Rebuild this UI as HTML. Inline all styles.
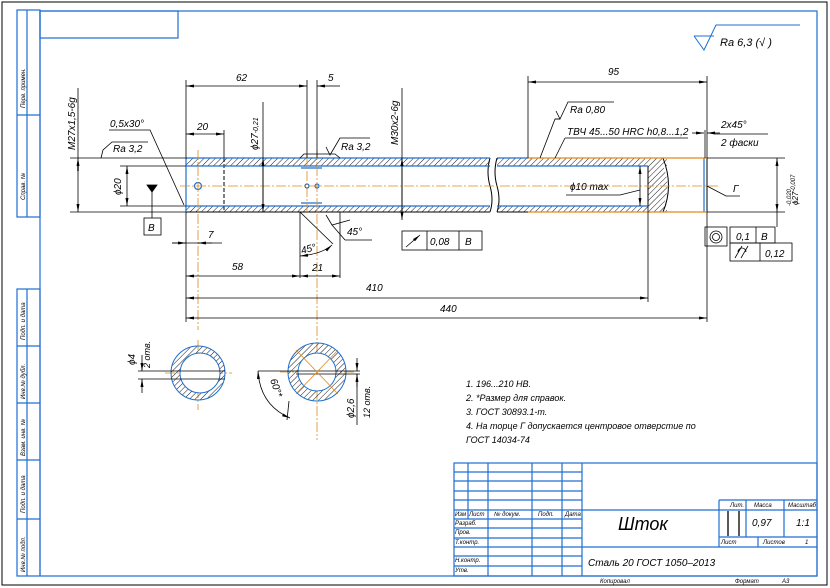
<!DOCTYPE html>
<html><head><meta charset="utf-8"><style>
html,body{margin:0;padding:0;background:#fff;}
svg{display:block;}
text{font-family:"Liberation Sans","DejaVu Sans",sans-serif;font-style:italic;fill:#000;}
</style></head><body>
<svg width="830" height="588" viewBox="0 0 830 588" xmlns="http://www.w3.org/2000/svg">
<defs>
<pattern id="h" width="4" height="4" patternUnits="userSpaceOnUse" patternTransform="rotate(45)">
<line x1="0" y1="0" x2="0" y2="4" stroke="#000" stroke-width="0.9"/>
</pattern>
<marker id="a" markerWidth="8" markerHeight="4" refX="8" refY="2" orient="auto-start-reverse" markerUnits="userSpaceOnUse"><path d="M0,0.5 L8,2 L0,3.5z" fill="#000"/></marker>
</defs>
<rect x="0" y="0" width="830" height="588" fill="#fff"/>
<!-- outer border -->
<rect x="2" y="2" width="825" height="583" fill="none" stroke="#000" stroke-width="1"/>
<g stroke="#1f6fd0" stroke-width="1.2" fill="none">
<rect x="40" y="11" width="777" height="565"/>
<rect x="40" y="11" width="138" height="27"/>
<rect x="17" y="10" width="23" height="207"/>
<line x1="27" y1="10" x2="27" y2="217"/>
<line x1="17" y1="115" x2="40" y2="115"/>
<rect x="17" y="289" width="23" height="287"/>
<line x1="27" y1="289" x2="27" y2="576"/>
<line x1="17" y1="346" x2="40" y2="346"/>
<line x1="17" y1="403" x2="40" y2="403"/>
<line x1="17" y1="460" x2="40" y2="460"/>
<line x1="17" y1="519" x2="40" y2="519"/>
<!-- title block -->
<rect x="454" y="463" width="363" height="113"/>
<line x1="582" y1="463" x2="582" y2="576"/>
<line x1="468" y1="463" x2="468" y2="519"/>
<line x1="488" y1="463" x2="488" y2="576"/>
<line x1="532" y1="463" x2="532" y2="576"/>
<line x1="562" y1="463" x2="562" y2="576"/>
<line x1="454" y1="472" x2="582" y2="472"/>
<line x1="454" y1="481" x2="582" y2="481"/>
<line x1="454" y1="491" x2="582" y2="491"/>
<line x1="454" y1="500" x2="582" y2="500"/>
<line x1="454" y1="510" x2="817" y2="510"/>
<line x1="454" y1="519" x2="582" y2="519"/>
<line x1="454" y1="528" x2="582" y2="528"/>
<line x1="454" y1="538" x2="582" y2="538"/>
<line x1="454" y1="547" x2="817" y2="547"/>
<line x1="454" y1="556" x2="582" y2="556"/>
<line x1="454" y1="566" x2="582" y2="566"/>
<line x1="719" y1="500" x2="719" y2="547"/>
<line x1="719" y1="500" x2="817" y2="500"/>
<line x1="746" y1="500" x2="746" y2="537"/>
<line x1="784" y1="500" x2="784" y2="537"/>
<line x1="719" y1="537" x2="817" y2="537"/>
<line x1="758" y1="537" x2="758" y2="547"/>
</g>
<g stroke="#000" stroke-width="1.3"><line x1="728" y1="511" x2="728" y2="536"/><line x1="739" y1="511" x2="739" y2="536"/></g>
<g font-size="6">
<text x="455" y="516">Изм</text><text x="469" y="516">Лист</text><text x="494" y="516">№ докум.</text><text x="538" y="516">Подп.</text><text x="565" y="516">Дата</text>
<text x="455" y="525">Разраб.</text><text x="455" y="534">Пров.</text><text x="455" y="544">Т.контр.</text>
<text x="455" y="562">Н.контр.</text><text x="455" y="572">Утв.</text>
<text x="730" y="507">Лит.</text><text x="754" y="507">Масса</text><text x="788" y="507">Масштаб</text>
<text x="721" y="544">Лист</text><text x="763" y="544">Листов</text><text x="805" y="544">1</text>
<text x="600" y="583">Копировал</text><text x="735" y="583">Формат</text><text x="782" y="583">А3</text>
</g>
<text x="618" y="530" font-size="18">Шток</text>
<text x="588" y="566" font-size="10">Сталь 20 ГОСТ 1050–2013</text>
<text x="752" y="526" font-size="10">0,97</text><text x="796" y="526" font-size="10">1:1</text>
<g font-size="6">
<text transform="translate(25,108) rotate(-90)">Перв. примен.</text>
<text transform="translate(25,200) rotate(-90)">Справ. №</text>
<text transform="translate(25,340) rotate(-90)">Подп. и дата</text>
<text transform="translate(25,399) rotate(-90)">Инв.№ дубл.</text>
<text transform="translate(25,456) rotate(-90)">Взам. инв. №</text>
<text transform="translate(25,513) rotate(-90)">Подп. и дата</text>
<text transform="translate(25,572) rotate(-90)">Инв.№ подл.</text>
</g>
<!-- roughness top right -->
<path d="M694,36 L704,50 L716,25 L800,25" fill="none" stroke="#1f6fd0" stroke-width="1"/>
<line x1="694" y1="36" x2="714" y2="36" stroke="#1f6fd0"/>
<text x="720" y="46" font-size="11">Ra 6,3 (√ )</text>

<!-- shaft body -->
<g>
<rect x="186" y="158" width="304" height="8" fill="url(#h)"/>
<rect x="186" y="206" width="304" height="6" fill="url(#h)"/>
<rect x="497" y="158" width="170" height="8" fill="url(#h)"/>
<rect x="497" y="206" width="170" height="6" fill="url(#h)"/>
<path d="M648,166 L663,166 Q672,186 663,206 L648,206z" fill="url(#h)"/>
</g>
<g stroke="#000" stroke-width="1" fill="none">
<line x1="186" y1="158" x2="490" y2="158"/><line x1="186" y1="212" x2="490" y2="212"/>
<line x1="497" y1="158" x2="707" y2="158"/><line x1="497" y1="212" x2="707" y2="212"/>
<line x1="186" y1="166" x2="490" y2="166"/><line x1="186" y1="206" x2="490" y2="206"/>
<line x1="497" y1="166" x2="648" y2="166"/><line x1="497" y1="206" x2="648" y2="206"/>
<path d="M490,158 Q486,172 490,186 Q494,200 490,212"/>
<path d="M497,158 Q493,172 497,186 Q501,200 497,212"/>
<line x1="648" y1="166" x2="648" y2="206"/>
<path d="M663,158 Q674,186 663,212"/>
<line x1="707" y1="158" x2="707" y2="212"/>
<line x1="224" y1="158" x2="224" y2="212" stroke-dasharray="4,2"/>
<line x1="263" y1="158" x2="263" y2="212"/>
<line x1="402" y1="158" x2="402" y2="212"/>
</g>
<g stroke="#1f6fd0" stroke-width="1.2" fill="none">
<line x1="186" y1="158" x2="186" y2="212"/>
<line x1="704" y1="158" x2="704" y2="212"/>
<line x1="186" y1="158" x2="490" y2="158"/>
<line x1="497" y1="158" x2="528" y2="158"/>
<line x1="186" y1="166" x2="490" y2="166"/><line x1="186" y1="206" x2="490" y2="206"/>
<line x1="497" y1="166" x2="648" y2="166"/><line x1="497" y1="206" x2="648" y2="206"/>
<circle cx="198" cy="186" r="3.5"/>
<circle cx="307" cy="186" r="2"/><circle cx="317" cy="186" r="2"/>
<line x1="301" y1="168" x2="322" y2="168"/><line x1="301" y1="203" x2="322" y2="203"/>
</g>
<line x1="528" y1="158" x2="707" y2="158" stroke="#e08a1e" stroke-width="1.3"/>
<line x1="528" y1="212" x2="707" y2="212" stroke="#e08a1e" stroke-width="1.3"/>
<g stroke="#e08a1e" stroke-width="0.8" stroke-dasharray="10,2,2,2" fill="none">
<line x1="180" y1="186" x2="720" y2="186"/>
<line x1="198" y1="150" x2="198" y2="330"/>
<line x1="317" y1="150" x2="317" y2="440"/>
<line x1="307" y1="155" x2="307" y2="215"/>
<line x1="198" y1="340" x2="198" y2="410"/>
<line x1="165" y1="373" x2="232" y2="373"/>
<line x1="280" y1="372" x2="356" y2="372"/>
</g>

<!-- dimensions -->
<g stroke="#000" stroke-width="0.8" fill="none">
<!-- left -->
<line x1="70" y1="158" x2="186" y2="158"/><line x1="70" y1="212" x2="186" y2="212"/>
<line x1="78" y1="158" x2="78" y2="212" marker-start="url(#a)" marker-end="url(#a)"/>
<line x1="78" y1="88" x2="78" y2="158"/>
<line x1="120" y1="166" x2="186" y2="166"/><line x1="120" y1="206" x2="186" y2="206"/>
<line x1="127" y1="166" x2="127" y2="206" marker-start="url(#a)" marker-end="url(#a)"/>
<path d="M101,158 L103,150 L112,142 L148,142"/>
<path d="M109,130 L150,130 L184,205"/>
<!-- datum B -->
<path d="M147,185 L157,185 L152,192z" fill="#000"/>
<line x1="152" y1="192" x2="152" y2="218"/>
<rect x="144" y="218" width="17" height="17"/>
<!-- 7 -->
<line x1="172" y1="243" x2="222" y2="243"/>
<line x1="186" y1="212" x2="186" y2="322"/>
<line x1="172" y1="243" x2="186" y2="243" marker-end="url(#a)"/>
<line x1="212" y1="243" x2="198" y2="243" marker-end="url(#a)"/>
<!-- 62, 5 -->
<line x1="186" y1="86" x2="307" y2="86" marker-start="url(#a)" marker-end="url(#a)"/>
<line x1="186" y1="80" x2="186" y2="158"/>
<line x1="307" y1="80" x2="307" y2="158"/><line x1="317" y1="80" x2="317" y2="158"/>
<line x1="330" y1="86" x2="317" y2="86" marker-end="url(#a)"/>
<line x1="340" y1="86" x2="330" y2="86"/>
<!-- 20 -->
<line x1="186" y1="134" x2="224" y2="134" marker-start="url(#a)" marker-end="url(#a)"/>
<line x1="224" y1="130" x2="224" y2="158"/>
<!-- phi27 -->
<line x1="263" y1="102" x2="263" y2="158"/>
<line x1="263" y1="158" x2="263" y2="212" marker-start="url(#a)" marker-end="url(#a)"/>
<!-- M30 -->
<line x1="402" y1="88" x2="402" y2="158"/>
<line x1="402" y1="158" x2="402" y2="220" marker-start="url(#a)" marker-end="url(#a)"/>
<rect x="402" y="231" width="80" height="19"/>
<line x1="427" y1="231" x2="427" y2="250"/><line x1="459" y1="231" x2="459" y2="250"/>
<line x1="406" y1="247" x2="420" y2="235" marker-end="url(#a)"/>
<!-- Ra 3.2 middle -->
<path d="M326,147 L330,155 L340,138 L370,138"/>
<path d="M300,158 L304,154 L335,154 L340,158"/>
<!-- 45 chamfer groove -->
<line x1="300" y1="212" x2="300" y2="278"/><line x1="340" y1="212" x2="340" y2="278"/>
<line x1="300" y1="212" x2="333" y2="244"/>
<path d="M300,256 Q322,254 332,245" marker-start="url(#a)" marker-end="url(#a)"/>
<path d="M326,215 L332,225 L350,220" />
<line x1="332" y1="225" x2="345" y2="240"/><line x1="345" y1="240" x2="372" y2="240"/>
<!-- 58, 21 -->
<line x1="186" y1="276" x2="300" y2="276" marker-start="url(#a)" marker-end="url(#a)"/>
<line x1="300" y1="276" x2="340" y2="276" marker-start="url(#a)" marker-end="url(#a)"/>
<!-- 410, 440 -->
<line x1="186" y1="298" x2="648" y2="298" marker-start="url(#a)" marker-end="url(#a)"/>
<line x1="648" y1="206" x2="648" y2="302"/>
<line x1="186" y1="318" x2="707" y2="318" marker-start="url(#a)" marker-end="url(#a)"/>
<line x1="707" y1="212" x2="707" y2="322"/>
<!-- 95 -->
<line x1="528" y1="82" x2="707" y2="82" marker-start="url(#a)" marker-end="url(#a)"/>
<line x1="528" y1="76" x2="528" y2="158"/><line x1="707" y1="76" x2="707" y2="158"/>
<!-- Ra 0.80, TVCh -->
<path d="M556,111 L560,119 L568,102 L614,102"/>
<path d="M540,158 L555,119 L560,119"/>
<line x1="555" y1="158" x2="565" y2="138"/>
<line x1="565" y1="138" x2="688" y2="138"/>
<line x1="555" y1="119" x2="560" y2="119"/>
<!-- 2x45 -->
<line x1="692" y1="133" x2="704" y2="133" marker-end="url(#a)"/>
<line x1="720" y1="133" x2="707" y2="133" marker-end="url(#a)"/>
<line x1="705" y1="130" x2="705" y2="158"/>
<line x1="715" y1="134" x2="768" y2="134"/>
<!-- phi10 max -->
<line x1="640" y1="166" x2="640" y2="206" marker-start="url(#a)" marker-end="url(#a)"/>
<path d="M640,190 L620,195 L566,195"/>
<!-- G -->
<path d="M707,186 L726,196 L740,196"/>
<!-- phi27 right -->
<line x1="707" y1="158" x2="785" y2="158"/><line x1="707" y1="212" x2="785" y2="212"/>
<line x1="777" y1="158" x2="777" y2="212" marker-start="url(#a)" marker-end="url(#a)"/>
<line x1="777" y1="212" x2="777" y2="227"/>
<rect x="705" y="227" width="22" height="19"/>
<circle cx="716" cy="237" r="6"/><circle cx="716" cy="237" r="3.5"/>
<rect x="730" y="227" width="45" height="16"/><line x1="756" y1="227" x2="756" y2="243"/>
<rect x="730" y="243" width="62" height="18"/><line x1="760" y1="243" x2="760" y2="261"/>
<path d="M735,258 L742,246 M741,258 L748,246 M738,252 a4,4 0 0 1 8,0"/>
</g>
<g stroke="#000" stroke-width="1.4"><line x1="78" y1="164" x2="78" y2="171"/></g>

<!-- sections -->
<g>
<circle cx="198" cy="373" r="27" fill="url(#h)" stroke="#1f6fd0" stroke-width="1"/>
<circle cx="200" cy="373" r="20" fill="#fff" stroke="#1f6fd0" stroke-width="1"/>
<circle cx="317" cy="372" r="29" fill="url(#h)" stroke="#1f6fd0" stroke-width="1"/>
<circle cx="317" cy="372" r="19" fill="#fff" stroke="#1f6fd0" stroke-width="1"/>
</g>
<g stroke="#000" stroke-width="0.8" fill="none">
<line x1="138" y1="371" x2="225" y2="371"/><line x1="138" y1="379" x2="225" y2="379"/>
<line x1="142" y1="355" x2="142" y2="371" marker-end="url(#a)"/>
<line x1="142" y1="393" x2="142" y2="379" marker-end="url(#a)"/>
<line x1="258" y1="371" x2="360" y2="371"/><line x1="296" y1="374" x2="360" y2="374"/>
<line x1="357" y1="358" x2="357" y2="371" marker-end="url(#a)"/>
<line x1="357" y1="387" x2="357" y2="374" marker-end="url(#a)"/>
<line x1="357" y1="374" x2="357" y2="425"/>
<line x1="289" y1="401" x2="287" y2="420"/>
<path d="M258,371 Q260,405 290,418" marker-start="url(#a)" marker-end="url(#a)"/>
</g>
<g stroke="#e08a1e" stroke-width="0.8"><line x1="296" y1="350" x2="338" y2="394"/><line x1="338" y1="350" x2="296" y2="394"/></g>

<!-- texts -->
<g font-size="10">
<text transform="translate(75,150) rotate(-90)">M27x1,5-6g</text>
<text x="110" y="127">0,5x30°</text>
<text x="113" y="152">Ra 3,2</text>
<text transform="translate(121,195) rotate(-90)">ϕ20</text>
<text x="148" y="231">В</text>
<text x="208" y="238">7</text>
<text x="236" y="81">62</text>
<text x="328" y="81">5</text>
<text x="197" y="130">20</text>
<text transform="translate(258,150) rotate(-90)">ϕ27<tspan font-size="7">-0,21</tspan></text>
<text transform="translate(398,145) rotate(-90)">M30x2-6g</text>
<text x="341" y="150">Ra 3,2</text>
<text x="430" y="245">0,08</text><text x="465" y="245">В</text>
<text x="347" y="235">45°</text>
<text transform="translate(302,254) rotate(-15)">45°</text>
<text x="232" y="270">58</text>
<text x="312" y="271">21</text>
<text x="366" y="291">410</text>
<text x="440" y="312">440</text>
<text x="608" y="75">95</text>
<text x="570" y="113">Ra 0,80</text>
<text x="567" y="135">ТВЧ 45...50 HRC h0,8...1,2</text>
<text x="721" y="128">2x45°</text>
<text x="721" y="146">2 фаски</text>
<text x="570" y="190">ϕ10 max</text>
<text x="733" y="192">Г</text>
<text transform="translate(798,205) rotate(-90)" font-size="8">ϕ27<tspan font-size="6" dy="-3">-0,007</tspan></text>
<text transform="translate(791,206) rotate(-90)" font-size="6">-0,020</text>
<text x="736" y="240">0,1</text><text x="761" y="240">В</text>
<text x="765" y="257">0,12</text>
<text transform="translate(135,365) rotate(-90)">ϕ4</text>
<text transform="translate(150,368) rotate(-90)" font-size="9">2 отв.</text>
<text transform="translate(270,380) rotate(70)">60°*</text>
<text transform="translate(354,418) rotate(-90)">ϕ2,6</text>
<text transform="translate(370,418) rotate(-90)" font-size="9">12 отв.</text>
</g>
<g font-size="9">
<text x="466" y="387">1. 196...210 НВ.</text>
<text x="466" y="401">2. *Размер для справок.</text>
<text x="466" y="415">3. ГОСТ 30893.1-т.</text>
<text x="466" y="429">4. На торце Г допускается центровое отверстие по</text>
<text x="466" y="443">ГОСТ 14034-74</text>
</g>
</svg>
</body></html>
